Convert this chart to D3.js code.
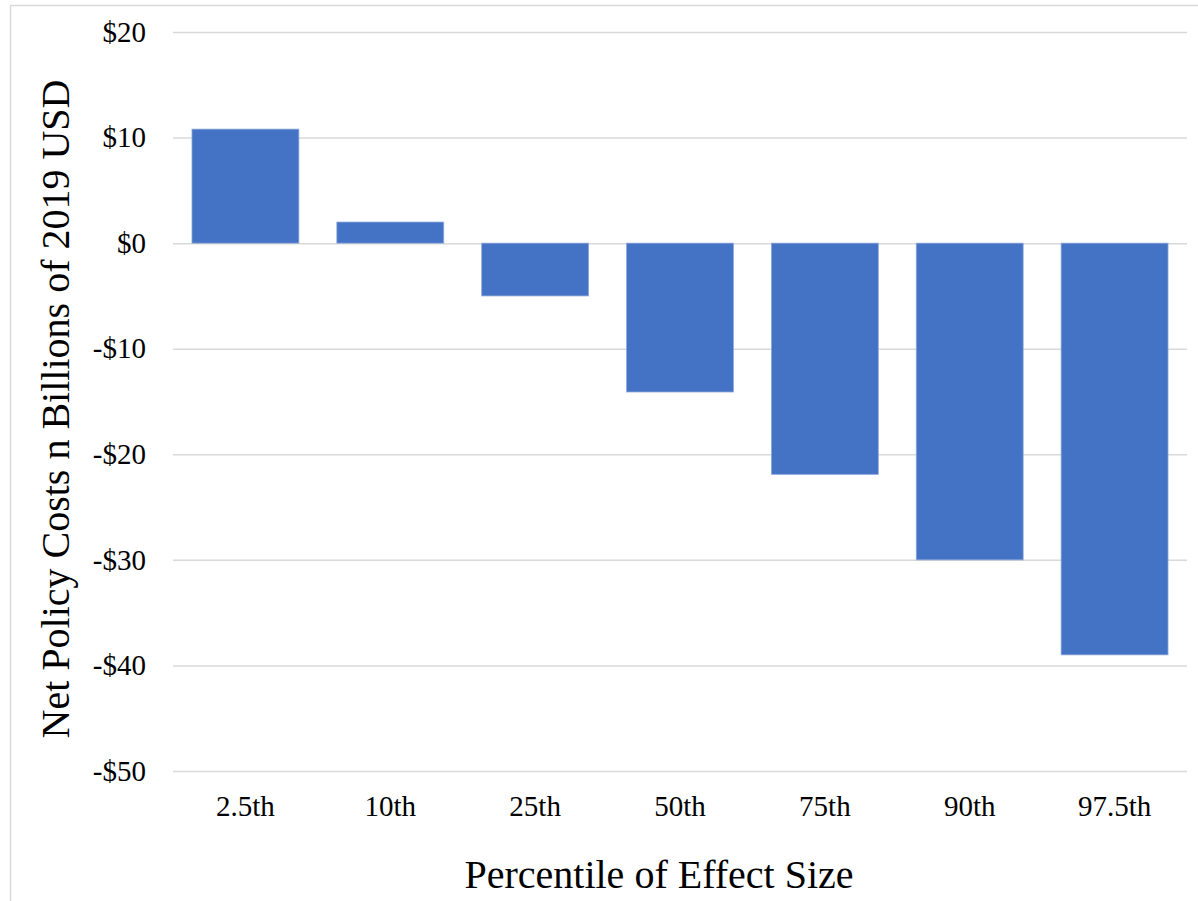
<!DOCTYPE html>
<html>
<head>
<meta charset="utf-8">
<script src="https://cdn.jsdelivr.net/npm/d3@7"></script>
<style>
  html, body { margin: 0; padding: 0; background: #fff; }
  svg { display: block; }
  text { font-family: "Liberation Serif", "Times New Roman", serif; fill: #000; }
</style>
</head>
<body>
<svg id="chart" width="1198" height="901"></svg>
<script>
const categories = ["2.5th", "10th", "25th", "50th", "75th", "90th", "97.5th"];
const values = [10.8, 2.0, -5.0, -14.1, -21.9, -30.0, -39.0];
const yTicks = [20, 10, 0, -10, -20, -30, -40, -50];
const yTitle = "Net Policy Costs n Billions of 2019 USD";
const xTitle = "Percentile of Effect Size";

const svg = d3.select("#chart");
const W = 1198, H = 901;
const margin = { left: 173, right: 11, top: 32, bottom: 130 };

// outer chart frame (left and top edges visible)
svg.append("rect")
  .attr("x", 10.5).attr("y", 5.5)
  .attr("width", 1300).attr("height", 1000)
  .attr("fill", "none").attr("stroke", "#d9d9d9").attr("stroke-width", 1.5);

const x = d3.scaleBand()
  .domain(categories)
  .range([margin.left, W - margin.right])
  .paddingInner(0.262)
  .paddingOuter(0.131);

const y = d3.scaleLinear()
  .domain([-50, 20])
  .range([771, 32]);

// gridlines
const grid = svg.append("g")
  .attr("transform", `translate(${margin.left},0)`)
  .call(d3.axisLeft(y).tickValues(yTicks).tickSize(-(W - margin.right - margin.left)).tickFormat(""));
grid.select(".domain").remove();
grid.selectAll("line").attr("stroke", "#d9d9d9").attr("stroke-width", 1.5);

// y tick labels
const yAxis = svg.append("g")
  .attr("transform", `translate(${margin.left},0)`)
  .call(d3.axisLeft(y).tickValues(yTicks).tickSize(0).tickPadding(27)
    .tickFormat(d => (d < 0 ? "-$" : "$") + Math.abs(d)));
yAxis.select(".domain").remove();
yAxis.selectAll("text")
  .style("font-family", '"Liberation Serif", "Times New Roman", serif')
  .style("font-size", "29px").attr("fill", "#000");

// bars
svg.append("g").selectAll("rect")
  .data(values)
  .join("rect")
  .attr("x", (d, i) => x(categories[i]))
  .attr("width", x.bandwidth())
  .attr("y", d => y(Math.max(0, d)))
  .attr("height", d => Math.abs(y(d) - y(0)))
  .attr("fill", "#4472C4")
  .attr("stroke", "#8ea9db")
  .attr("stroke-width", 0.8);

// x tick labels
const xAxis = svg.append("g")
  .attr("transform", `translate(0,771)`)
  .call(d3.axisBottom(x).tickSize(0).tickPadding(24));
xAxis.select(".domain").remove();
xAxis.selectAll("text")
  .style("font-family", '"Liberation Serif", "Times New Roman", serif')
  .style("font-size", "29px").attr("fill", "#000");

// axis titles
svg.append("text")
  .attr("x", 659)
  .attr("y", 888)
  .attr("text-anchor", "middle")
  .style("font-size", "40px")
  .text(xTitle);

svg.append("text")
  .attr("transform", `translate(69,${(80 + 738) / 2}) rotate(-90)`)
  .attr("text-anchor", "middle")
  .style("font-size", "40px")
  .text(yTitle);
</script>
</body>
</html>
